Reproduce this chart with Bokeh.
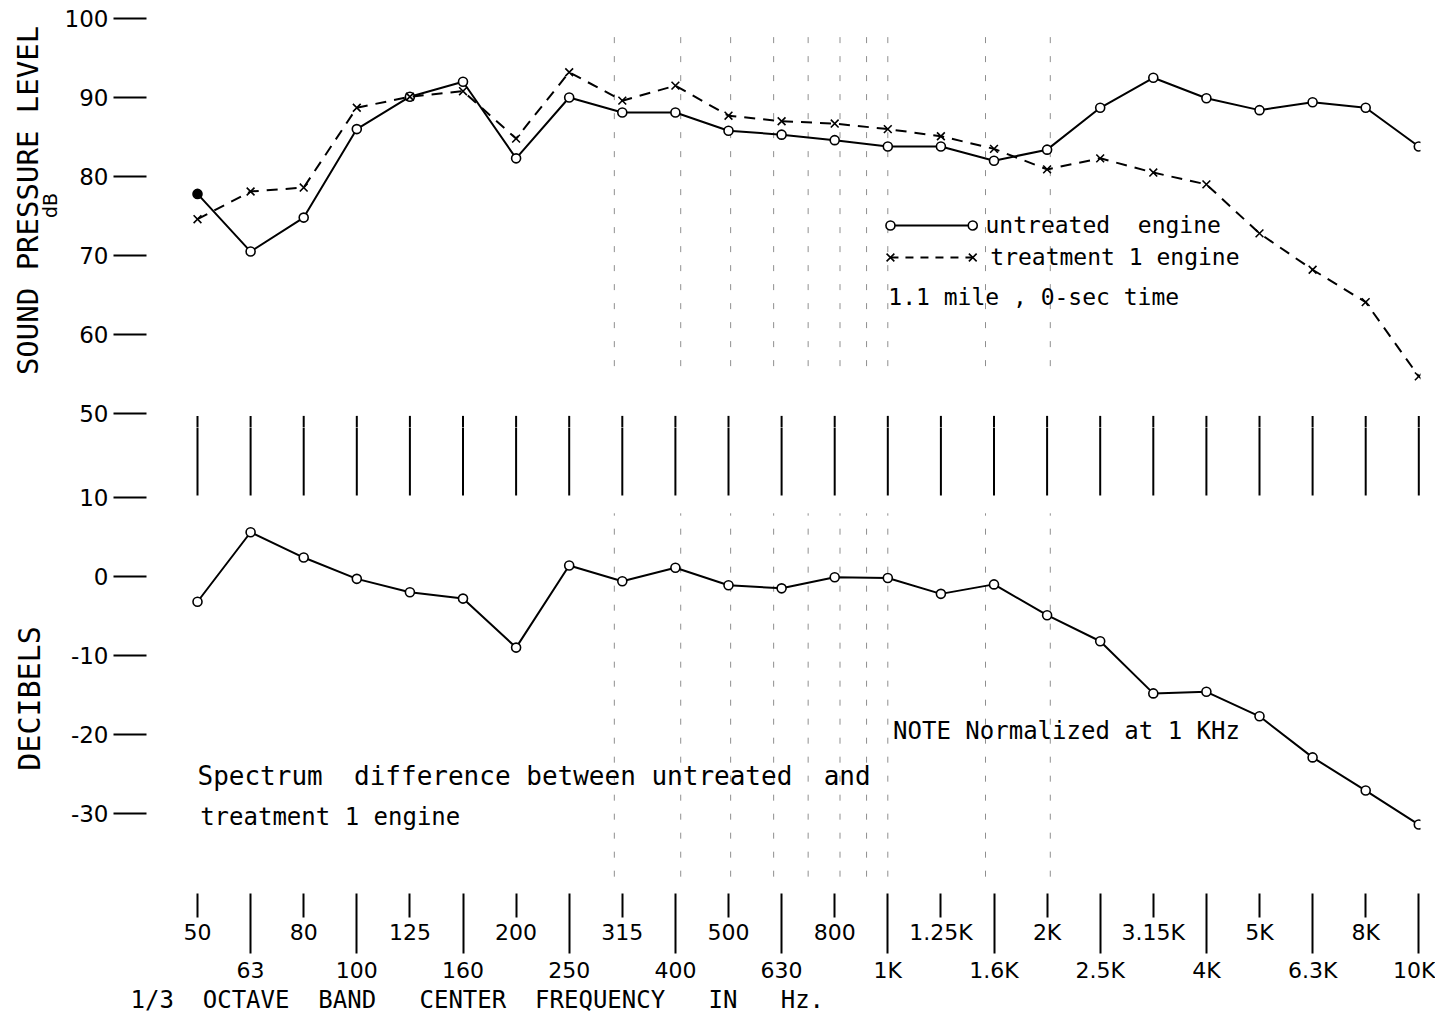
import numpy as np
from bokeh.plotting import figure
from bokeh.models import LinearAxis, FixedTicker, Range1d, Label, ColumnDataSource
from bokeh.layouts import column, row
from bokeh.embed import file_html
from bokeh.resources import INLINE

# ---------------- data ----------------
bands = ["50", "63", "80", "100", "125", "160", "200", "250", "315", "400", "500", "630",
         "800", "1K", "1.25K", "1.6K", "2K", "2.5K", "3.15K", "4K", "5K", "6.3K", "8K", "10K"]
untreated = [77.8, 70.5, 74.8, 86.0, 90.1, 92.0, 82.3, 90.0, 88.1, 88.1, 85.8, 85.3,
             84.6, 83.8, 83.8, 82.0, 83.4, 88.7, 92.5, 89.9, 88.4, 89.4, 88.7, 83.8]
treatment1 = [74.6, 78.1, 78.6, 88.7, 90.1, 90.8, 84.8, 93.2, 89.6, 91.5, 87.7, 87.0,
              86.7, 86.0, 85.1, 83.5, 80.9, 82.3, 80.5, 79.0, 72.8, 68.2, 64.1, 54.7]
difference = [-3.2, 5.6, 2.4, -0.3, -2.0, -2.8, -9.0, 1.4, -0.6, 1.1, -1.1, -1.5,
              -0.1, -0.2, -2.2, -1.0, -4.9, -8.2, -14.8, -14.6, -17.7, -22.9, -27.1, -31.4]
spl_ticks = [50, 60, 70, 80, 90, 100]
diff_ticks = [-30, -20, -10, 0, 10]

FONT = "DejaVu Sans"
MONO = "DejaVu Sans Mono"
NB = "\u00a0"   # non-collapsing space for the wide lettering
idx = list(range(len(bands)))
odd_idx = idx[0::2]     # 50, 80, 125 ... (upper label row)
even_idx = idx[1::2]    # 63, 100, 160 ... (lower label row)

X_RANGE = (-0.9605, 23.032)
FRAME_W = 1274
LAB_W = 60
TOP_FRAME, BOT_FRAME = 415, 466
BOT_BORDER = 92
TOP_H = 12 + TOP_FRAME
BOT_H = BOT_FRAME + BOT_BORDER


def clean(p):
    p.outline_line_color = None
    p.background_fill_color = "white"
    p.border_fill_color = "white"
    p.grid.visible = False
    return p


def base_fig(frame_h, y_rng, top, bottom):
    p = figure(frame_width=FRAME_W, frame_height=frame_h, output_backend="svg",
               toolbar_location=None, x_axis_location=None, y_axis_location=None,
               x_range=Range1d(*X_RANGE), y_range=Range1d(*y_rng),
               min_border_left=146 - LAB_W, min_border_right=15,
               min_border_top=top, min_border_bottom=bottom)
    return clean(p)


def y_axis(p, ticks):
    ax = LinearAxis(ticker=FixedTicker(ticks=ticks, minor_ticks=[]),
                    major_label_overrides={t: str(t) for t in ticks})
    ax.axis_line_color = None
    ax.major_tick_out = 33
    ax.major_tick_in = 0
    ax.major_tick_line_width = 2
    ax.major_label_standoff = 5
    ax.major_label_text_font = FONT
    ax.major_label_text_font_size = "23px"
    ax.major_label_text_color = "black"
    p.add_layout(ax, "left")


def label(p, x, y, text, size="24px", font=MONO, **kw):
    p.add_layout(Label(x=x, y=y, text=text, text_font=font, text_font_size=size,
                       text_color="black", text_baseline="middle", **kw))


ghost_x = [7.85, 9.1, 10.04, 10.85, 11.5, 12.1, 12.6, 13.0, 14.84, 16.06]
GHOST = dict(line_color="#333333", line_width=1, line_dash="6 13", line_alpha=0.55)
BREAK = dict(line_color="black", line_width=2)

# ---------------- top panel: sound pressure level ----------------
top = base_fig(TOP_FRAME, (48.23, 100.76), 12, 0)
y_axis(top, spl_ticks)

top.segment(x0=ghost_x, y0=[56] * len(ghost_x), x1=ghost_x, y1=[99] * len(ghost_x), **GHOST)
# upper part of the axis-break marks
top.segment(x0=idx, y0=[46] * len(idx), x1=idx, y1=[49.7] * len(idx), **BREAK)

src = ColumnDataSource(dict(x=idx, u=untreated, t=treatment1,
                            ufill=["black"] + ["white"] * (len(idx) - 1)))
top.line("x", "u", source=src, line_color="black", line_width=2)
top.scatter("x", "u", source=src, marker="circle", size=9, fill_color="ufill",
            line_color="black", line_width=1.6)
top.line("x", "t", source=src, line_color="black", line_width=2, line_dash="11 8")
top.scatter("x", "t", source=src, marker="x", size=11, line_color="black", line_width=1.6)

# hand-drawn style legend
LX0, LX1 = 13.05, 14.6
top.line([LX0, LX1], [73.8, 73.8], line_color="black", line_width=2)
top.scatter([LX0, LX1], [73.8, 73.8], marker="circle", size=9, fill_color="white",
            line_color="black", line_width=1.6)
top.line([LX0, LX1], [69.75, 69.75], line_color="black", line_width=2, line_dash="8 7")
top.scatter([LX0, LX1], [69.75, 69.75], marker="x", size=11, line_color="black", line_width=1.6)

label(top, 14.84, 73.8, "untreated" + NB * 2 + "engine", size="23px")
label(top, 14.93, 69.75, "treatment 1 engine", size="23px")
label(top, 13.01, 64.7, "1.1 mile , 0-sec time", size="23px")

# ---------------- bottom panel: spectrum difference ----------------
bot = base_fig(BOT_FRAME, (-40.13, 18.86), 0, BOT_BORDER)
y_axis(bot, diff_ticks)

bot.segment(x0=ghost_x, y0=[-38] * len(ghost_x), x1=ghost_x, y1=[8] * len(ghost_x), **GHOST)
# lower part of the axis-break marks
bot.segment(x0=idx, y0=[10.25] * len(idx), x1=idx, y1=[22] * len(idx), **BREAK)

dsrc = ColumnDataSource(dict(x=idx, d=difference))
bot.line("x", "d", source=dsrc, line_color="black", line_width=2)
bot.scatter("x", "d", source=dsrc, marker="circle", size=9, fill_color="white",
            line_color="black", line_width=1.6)

label(bot, 13.1, -19.6, "NOTE Normalized at 1 KHz")
label(bot, 0.0, -25.3, "Spectrum" + NB * 2 + "difference between untreated" + NB * 2 + "and",
      size="26px")
label(bot, 0.05, -30.4, "treatment 1 engine")

# x axis: upper row (short ticks) with long minor ticks for the lower row
ax_a = LinearAxis(ticker=FixedTicker(ticks=odd_idx, minor_ticks=even_idx),
                  major_label_overrides={i: bands[i] for i in odd_idx})
ax_a.axis_line_color = None
ax_a.major_tick_out = 24
ax_a.major_tick_in = 0
ax_a.minor_tick_out = 60
ax_a.minor_tick_in = 0
ax_a.major_tick_line_width = 2
ax_a.minor_tick_line_width = 2
ax_a.major_tick_line_color = "black"
ax_a.minor_tick_line_color = "black"
ax_a.major_label_standoff = -34
ax_a.major_label_text_font = FONT
ax_a.major_label_text_font_size = "22px"
ax_a.major_label_text_color = "black"
bot.add_layout(ax_a, "below")

ax_b = LinearAxis(ticker=FixedTicker(ticks=even_idx, minor_ticks=[]),
                  major_label_overrides={i: bands[i] for i in even_idx})
ax_b.axis_line_color = None
ax_b.major_tick_out = 0
ax_b.major_tick_in = 0
ax_b.major_label_standoff = 10
ax_b.major_label_text_font = FONT
ax_b.major_label_text_font_size = "22px"
ax_b.major_label_text_color = "black"
bot.add_layout(ax_b, "below")

# ---------------- axis titles ----------------
H = TOP_H + BOT_H
labfig = clean(figure(frame_width=LAB_W, frame_height=H, output_backend="svg",
                      toolbar_location=None, x_axis_location=None, y_axis_location=None,
                      x_range=Range1d(0, LAB_W), y_range=Range1d(0, H), min_border=0))
label(labfig, 27, H - 200, "SOUND PRESSURE LEVEL", size="29px", angle=np.pi / 2,
      text_align="center")
label(labfig, 49, H - 205, "dB", size="19px", font=FONT, angle=np.pi / 2, text_align="center")
label(labfig, 29, H - 698, "DECIBELS", size="30px", angle=np.pi / 2, text_align="center")

TW = 146 + FRAME_W + 15
TITLE_H = 1013 - H
titlefig = clean(figure(frame_width=TW, frame_height=TITLE_H, output_backend="svg",
                        toolbar_location=None, x_axis_location=None, y_axis_location=None,
                        x_range=Range1d(0, TW), y_range=Range1d(0, TITLE_H), min_border=0))
label(titlefig, 130, TITLE_H / 2,
      "1/3" + NB * 2 + "OCTAVE" + NB * 2 + "BAND" + NB * 3 + "CENTER" + NB * 2 + "FREQUENCY"
      + NB * 3 + "IN" + NB * 3 + "Hz.", size="24px")

layout = column(row(labfig, column(top, bot, spacing=0), spacing=0), titlefig, spacing=0)
open("out.html", "w").write(file_html(layout, INLINE))
